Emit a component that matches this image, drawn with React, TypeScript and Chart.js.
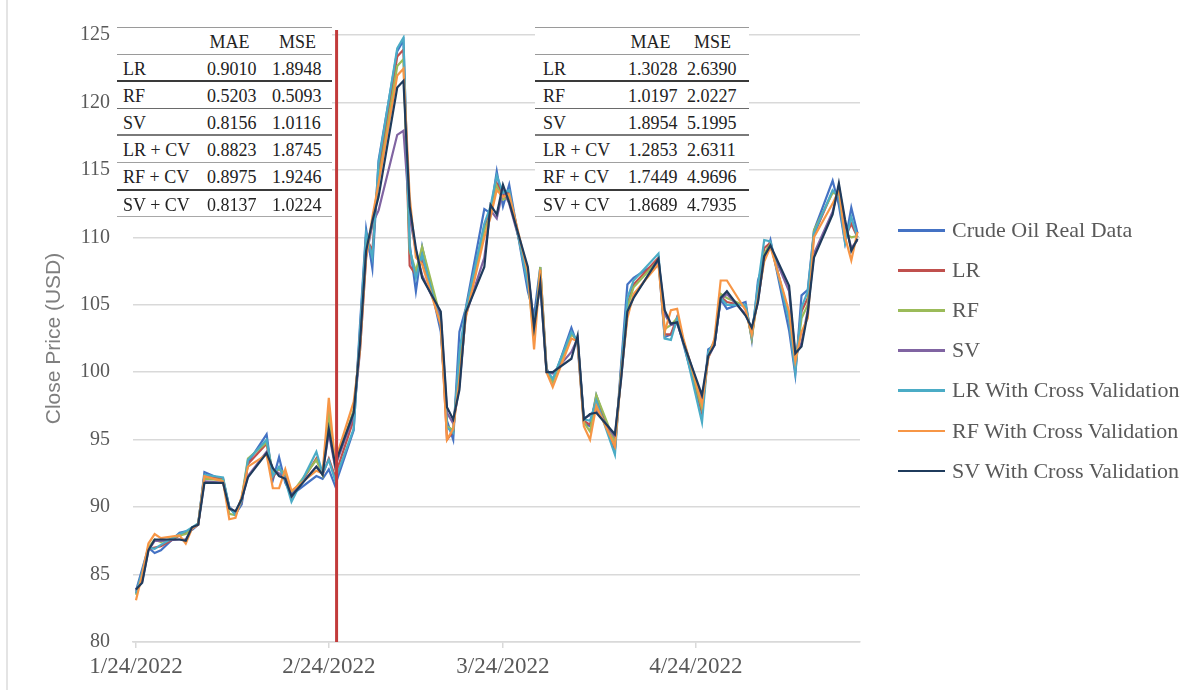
import React, { useEffect, useRef } from "react";
import { Chart, registerables } from "chart.js";

Chart.register(...registerables);

// ---- data (day offset from 1/24/2022 for each trading day) ----
const tradingDays = [0,1,2,3,4,7,8,9,10,11,14,15,16,17,18,21,22,23,24,25,29,30,31,32,35,36,37,38,39,42,43,44,45,46,49,50,51,52,53,56,57,58,59,60,63,64,65,66,67,70,71,72,73,74,77,78,79,80,84,85,86,87,88,91,92,93,94,95,98,99,100,101,102,105,106,107,108,109,112,113,114,115,116];

const realData = [
  83.8, 85.4, 87.0, 86.6, 86.8, 88.1, 88.2, 88.3, 88.7, 92.6,
  92.0, 90.0, 89.5, 90.2, 93.3, 95.4, 92.0, 93.7, 91.8, 90.9,
  92.3, 92.1, 92.8, 91.6, 95.7, 103.4, 110.6, 107.7, 115.7, 123.8,
  124.6, 109.5, 106.0, 109.3, 103.0, 96.4, 95.0, 103.0, 104.7, 112.1,
  111.8, 114.9, 112.3, 113.9, 106.0, 104.2, 107.8, 100.3, 99.3, 103.3,
  102.0, 96.2, 96.0, 98.3, 94.3, 100.6, 106.5, 107.0, 108.2, 102.6,
  102.8, 103.8, 102.1, 97.0, 101.7, 102.0, 105.4, 104.7, 105.2, 102.4,
  106.8, 108.3, 109.8, 103.1, 99.8, 105.7, 106.1, 110.5, 114.2, 112.4,
  109.6, 112.2, 110.3,
];

const lrPred = [
  83.6, 85.1, 86.9, 87.0, 87.1, 87.9, 88.1, 88.4, 88.7, 92.3,
  92.1, 89.9, 89.5, 90.4, 93.2, 94.7, 92.2, 92.9, 92.1, 90.7,
  93.6, 92.4, 93.6, 92.3, 96.5, 102.6, 110.0, 109.0, 114.8, 123.4,
  123.9, 107.9, 107.2, 108.4, 103.8, 95.0, 95.6, 101.0, 104.5, 110.8,
  112.0, 114.0, 113.1, 113.3, 106.8, 103.2, 107.2, 100.2, 99.4, 102.9,
  102.3, 96.4, 96.1, 98.0, 94.3, 100.2, 105.0, 106.5, 108.5, 102.8,
  102.8, 104.1, 102.3, 97.0, 101.4, 102.2, 105.6, 105.2, 104.9, 102.6,
  106.0, 109.2, 109.6, 104.0, 100.3, 104.5, 105.5, 110.2, 113.4, 113.1,
  110.0, 111.0, 110.0,
];

const rfPred = [
  83.5, 85.0, 87.0, 87.6, 87.4, 87.9, 88.0, 88.4, 88.8, 92.1,
  92.0, 89.5, 89.4, 90.7, 93.6, 94.8, 92.6, 92.8, 92.5, 91.0,
  93.5, 92.4, 97.0, 93.0, 97.2, 102.0, 109.5, 110.8, 114.2, 122.7,
  123.2, 109.0, 107.5, 109.3, 104.0, 96.0, 95.7, 100.5, 104.5, 110.5,
  111.6, 113.8, 112.8, 113.0, 107.0, 102.5, 107.8, 100.1, 99.3, 102.8,
  102.4, 96.3, 95.6, 98.3, 94.8, 100.0, 104.8, 106.3, 108.3, 103.2,
  103.5, 104.0, 102.4, 97.3, 101.3, 102.2, 105.8, 105.5, 104.9, 102.5,
  105.8, 108.8, 109.5, 104.2, 100.5, 104.0, 105.0, 110.5, 113.3, 113.2,
  110.3, 110.0, 110.1,
];

const svPred = [
  83.9, 84.5, 86.8, 87.5, 87.5, 87.6, 87.6, 88.4, 88.7, 91.9,
  91.8, 90.0, 89.6, 90.6, 92.3, 94.1, 92.8, 92.5, 92.2, 90.9,
  93.0, 92.5, 95.5, 93.0, 96.8, 101.5, 108.5, 111.0, 112.0, 117.6,
  117.9, 111.5, 109.0, 107.2, 104.2, 97.0, 96.2, 99.0, 104.2, 108.5,
  112.0, 111.4, 113.5, 112.5, 107.5, 103.5, 106.5, 100.0, 99.9, 101.5,
  102.5, 96.6, 96.8, 97.2, 95.2, 99.6, 104.4, 105.6, 108.3, 104.3,
  103.5, 103.6, 102.3, 98.0, 101.1, 102.0, 105.4, 105.8, 104.3, 103.2,
  105.3, 108.5, 109.3, 106.0, 101.2, 102.2, 104.6, 108.8, 111.9, 113.8,
  111.0, 109.2, 109.8,
];

const lrCvPred = [
  83.6, 85.2, 87.0, 86.9, 87.2, 88.0, 88.2, 88.5, 88.8, 92.4,
  92.2, 90.0, 89.4, 90.5, 93.5, 95.0, 92.3, 93.0, 92.0, 90.4,
  94.1, 92.5, 93.5, 92.0, 95.8, 103.0, 110.3, 108.5, 115.5, 124.0,
  124.8, 109.2, 107.0, 108.7, 103.5, 95.9, 95.5, 101.5, 104.6, 111.0,
  112.3, 114.6, 113.3, 113.5, 106.5, 103.5, 107.0, 100.2, 99.5, 103.0,
  102.3, 96.5, 96.4, 97.9, 93.9, 100.3, 105.5, 106.8, 108.8, 102.5,
  102.4, 104.0, 102.3, 96.3, 101.5, 102.3, 105.5, 105.0, 105.0, 102.7,
  106.5, 109.8, 109.7, 103.8, 100.0, 104.8, 106.0, 110.3, 113.5, 113.0,
  109.6, 111.5, 110.0,
];

const rfCvPred = [
  83.1, 85.0, 87.3, 88.0, 87.7, 87.9, 87.3, 88.4, 88.7, 92.3,
  91.9, 89.1, 89.2, 90.8, 93.0, 93.9, 91.4, 91.4, 92.8, 91.2,
  92.7, 92.5, 98.1, 93.4, 97.8, 101.5, 108.5, 111.5, 114.0, 122.0,
  122.5, 113.0, 108.5, 108.0, 103.5, 95.0, 95.8, 99.5, 104.0, 110.0,
  111.5, 113.5, 113.0, 113.2, 107.4, 101.7, 107.6, 100.0, 98.9, 102.5,
  102.3, 96.0, 95.0, 97.5, 94.5, 99.8, 104.0, 105.8, 108.0, 103.0,
  104.6, 104.7, 102.5, 97.6, 101.0, 102.5, 106.8, 106.8, 104.6, 102.8,
  105.5, 108.2, 109.3, 104.5, 100.8, 103.0, 104.0, 110.0, 112.5, 113.5,
  110.0, 108.3, 110.4,
];

const svCvPred = [
  83.9, 84.4, 86.8, 87.6, 87.6, 87.6, 87.5, 88.5, 88.7, 91.8,
  91.8, 89.9, 89.7, 90.6, 92.2, 94.0, 92.9, 92.3, 92.1, 90.8,
  93.0, 92.4, 95.8, 93.2, 97.0, 102.0, 109.0, 111.2, 113.0, 121.1,
  121.6, 112.3, 109.2, 107.0, 104.5, 97.4, 96.5, 98.7, 104.4, 107.8,
  112.4, 111.7, 113.9, 112.6, 107.8, 103.3, 106.6, 100.0, 100.0, 101.0,
  102.7, 96.5, 96.9, 97.0, 95.4, 99.5, 104.5, 105.5, 108.4, 104.6,
  103.6, 103.7, 102.2, 98.3, 101.2, 102.0, 105.5, 106.0, 104.2, 103.3,
  105.2, 108.6, 109.4, 106.4, 101.4, 101.9, 104.4, 108.5, 111.7, 114.0,
  111.3, 109.0, 109.9,
];

const seriesNames = [
  "Crude Oil Real Data",
  "LR",
  "RF",
  "SV",
  "LR With Cross Validation",
  "RF With Cross Validation",
  "SV With Cross Validation",
];
const seriesValues = [realData, lrPred, rfPred, svPred, lrCvPred, rfCvPred, svCvPred];
const seriesColors = ["#4472C4", "#C0504D", "#9BBB59", "#8064A2", "#4BACC6", "#F79646", "#1F3B5C"];

const xTickDays = [0, 31, 59, 90];
const xTickLabels = ["1/24/2022", "2/24/2022", "3/24/2022", "4/24/2022"];
const yMin = 80;
const yMax = 125;
const yStep = 5;
const splitDay = 32.25;
const yTitle = "Close Price (USD)";

// ---- error tables ----
const tableHeader = ["", "MAE", "MSE"];
const tableRowLabels = ["LR", "RF", "SV", "LR + CV", "RF + CV", "SV + CV"];
const trainMAE = ["0.9010", "0.5203", "0.8156", "0.8823", "0.8975", "0.8137"];
const trainMSE = ["1.8948", "0.5093", "1.0116", "1.8745", "1.9246", "1.0224"];
const testMAE = ["1.3028", "1.0197", "1.8954", "1.2853", "1.7449", "1.8689"];
const testMSE = ["2.6390", "2.0227", "5.1995", "2.6311", "4.9696", "4.7935"];

const W = 1194;
const H = 695;

const ruleStyles = [
  "1px solid #9a9a9a",
  "1.5px solid #9a9a9a",
  "2px solid #3a3a3a",
  "1.5px solid #6a6a6a",
  "2px solid #7a7a7a",
  "1.5px solid #a0a0a0",
  "2px solid #3a3a3a",
  "1.5px solid #a8a8a8",
];

function ErrorTable(props: { left: number; width: number; labelX: number; maeX: number; mseX: number; mae: string[]; mse: string[] }) {
  const rowH = 25.6;
  const font = { fontFamily: "'Liberation Serif', 'Times New Roman', serif", fontSize: 18, color: "#222" };
  const cell = (x: number, text: string, center?: boolean) => (
    <span style={{ position: "absolute", left: x, top: 0, lineHeight: rowH + 3 + "px", whiteSpace: "nowrap", width: center ? 51 : undefined, textAlign: center ? "center" : "left" }}>{text}</span>
  );
  const rows = [
    [tableHeader[0], tableHeader[1], tableHeader[2]],
    ...tableRowLabels.map((l, i) => [l, props.mae[i], props.mse[i]]),
  ];
  return (
    <div style={{ position: "absolute", left: props.left, top: 27, width: props.width, background: "#fff", borderTop: ruleStyles[0], ...font }}>
      {rows.map((r, i) => (
        <div key={i} style={{ position: "relative", height: rowH, borderBottom: ruleStyles[i + 1] }}>
          {cell(props.labelX, r[0])}
          {cell(i === 0 ? props.maeX - 3 : props.maeX, r[1], i === 0)}
          {cell(props.mseX, r[2], i === 0)}
        </div>
      ))}
    </div>
  );
}

function Legend() {
  const top0 = 230;
  const gap = 40.1;
  return (
    <div>
      {seriesNames.map((name, i) => (
        <div key={name} style={{ position: "absolute", left: 898, top: top0 + i * gap - 13, height: 26, width: 296 }}>
          <div style={{ position: "absolute", left: 0, top: 12, width: 47, height: 2.5, background: seriesColors[i] }} />
          <span style={{ position: "absolute", left: 54, top: 0, lineHeight: "26px", fontFamily: "'Liberation Serif', serif", fontSize: 22, color: "#595959", whiteSpace: "nowrap" }}>{name}</span>
        </div>
      ))}
    </div>
  );
}

export default function App() {
  const canvasRef = useRef<HTMLCanvasElement | null>(null);

  useEffect(() => {
    const canvas = canvasRef.current;
    if (!canvas) return;
    const splitLine = {
      id: "splitLine",
      afterDatasetsDraw(chart: any) {
        const { ctx, chartArea, scales } = chart;
        const px = scales.x.getPixelForValue(splitDay);
        ctx.save();
        ctx.strokeStyle = "#C23B3B";
        ctx.lineWidth = 3;
        ctx.beginPath();
        ctx.moveTo(px, chartArea.top - 5);
        ctx.lineTo(px, chartArea.bottom);
        ctx.stroke();
        ctx.restore();
      },
    };
    const chart = new Chart(canvas, {
      type: "line",
      data: {
        datasets: seriesNames.map((name, i) => ({
          label: name,
          data: tradingDays.map((d, j) => ({ x: d, y: seriesValues[i][j] })),
          borderColor: seriesColors[i],
          backgroundColor: seriesColors[i],
          borderWidth: 2.2,
          pointRadius: 0,
          tension: 0,
          fill: false,
          order: seriesNames.length - 1 - i,
        })),
      },
      options: {
        animation: false,
        responsive: false,
        maintainAspectRatio: false,
        events: [],
        layout: { padding: { top: 29, right: W - 860, bottom: 0, left: 0 } },
        plugins: { legend: { display: false }, tooltip: { enabled: false } },
        scales: {
          x: {
            type: "linear",
            min: -0.48,
            max: 116.4,
            afterBuildTicks: (scale: any) => {
              scale.ticks = xTickDays.map((v) => ({ value: v }));
            },
            afterFit: (scale: any) => {
              scale.height = H - 642;
            },
            ticks: {
              autoSkip: false,
              maxRotation: 0,
              padding: 5,
              color: "#595959",
              font: { family: "'Liberation Serif', serif", size: 23 },
              callback: (_v: any, i: number) => xTickLabels[i],
            },
            grid: { drawOnChartArea: false, drawTicks: true, tickLength: 6, color: "#d9d9d9", lineWidth: 1.5 },
            border: { display: true, color: "#d9d9d9", width: 1.5 },
          },
          y: {
            min: yMin,
            max: yMax,
            afterFit: (scale: any) => {
              scale.width = 133;
            },
            ticks: {
              stepSize: yStep,
              padding: 23,
              color: "#595959",
              font: { family: "'Liberation Serif', serif", size: 20 },
            },
            grid: { color: "#d9d9d9", lineWidth: 1.5, drawTicks: false },
            border: { display: false },
            title: {
              display: true,
              text: yTitle,
              color: "#7f7f7f",
              font: { family: "'Liberation Sans', sans-serif", size: 21 },
              padding: { top: 42, bottom: 0 },
            },
          },
        },
      },
      plugins: [splitLine],
    } as any);
    return () => chart.destroy();
  }, []);

  return (
    <div style={{ position: "absolute", left: 0, top: 0, width: W, height: H, background: "#fff", overflow: "hidden" }}>
      <canvas ref={canvasRef} width={W} height={H} style={{ position: "absolute", left: 0, top: 0, width: W, height: H, display: "block" }} />
      <div style={{ position: "absolute", left: 6, top: 0, width: 2, height: 690, background: "#e4e4e4" }} />
      <ErrorTable left={117} width={215} labelX={6} maeX={90} mseX={155} mae={trainMAE} mse={trainMSE} />
      <ErrorTable left={535} width={214} labelX={8} maeX={93} mseX={152} mae={testMAE} mse={testMSE} />
      <Legend />
    </div>
  );
}
